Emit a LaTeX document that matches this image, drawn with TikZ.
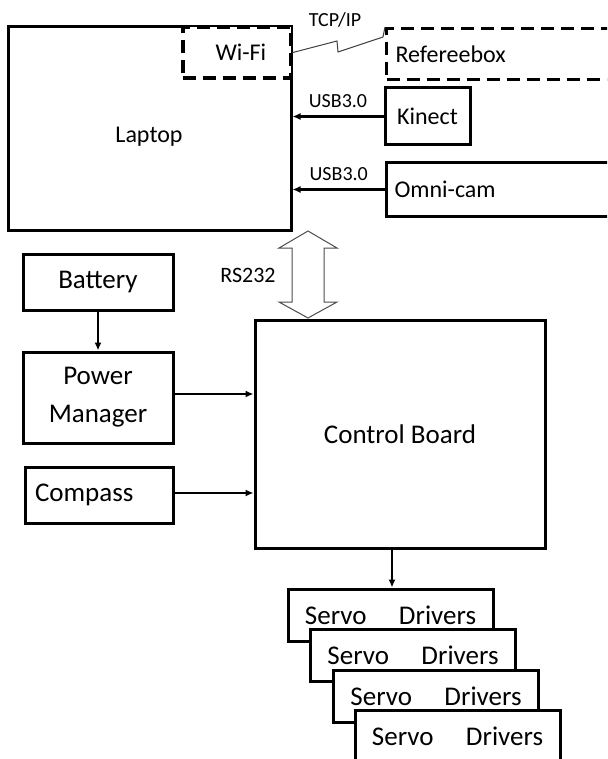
\documentclass[tikz,border=0pt]{standalone}
\usepackage{fontspec}
\setmainfont{Carlito}
\usetikzlibrary{arrows.meta,positioning,calc}

\begin{document}
\begin{tikzpicture}[
    x=1pt,y=-1pt,
    >={Latex[length=8pt,width=7pt]},
    every node/.style={font=\fontsize{27}{38}\selectfont},
    unit/.style={rectangle,draw,line width=3pt,fill=white,inner sep=0pt},
    wireless/.style={unit,dash pattern=on 13pt off 7pt,line width=3.2pt},
    link/.style={->,line width=2.4pt},
    wire/.style={->,line width=1.5pt},
    tag/.style={font=\fontsize{20}{24}\selectfont,inner sep=1pt},
    servobox/.style={unit,minimum width=205pt,minimum height=52pt}
  ]
  \useasboundingbox (0,0) rectangle (607,759);
  \clip (0,0) rectangle (607,759);
  %% Laptop and its inputs
  \node[unit,minimum width=283pt,minimum height=203pt] (laptop) at (149.5,128.5) {};
  \node[font=\fontsize{24}{28}\selectfont] (laptoptxt) at (149,137) {Laptop};
  \node[wireless,minimum width=108pt,minimum height=51pt,anchor=north east,font=\fontsize{24}{28}\selectfont] (wifi) at (laptop.north east) {\hspace{8pt}Wi-Fi};
  \node[wireless,minimum height=51pt,text width=210pt,inner xsep=9pt,align=left,anchor=north west,font=\fontsize{24}{28}\selectfont] (referee) at (385,27) {Refereebox};
  \node[unit,minimum width=85pt,minimum height=57pt,font=\fontsize{24}{28}\selectfont] (kinect) at (427.5,116.5) {Kinect};
  \node[unit,minimum height=54pt,text width=210pt,inner xsep=8pt,align=left,anchor=north west,font=\fontsize{24}{28}\selectfont] (omni) at (385,161) {Omni-cam};
  %% Wireless link
  \coordinate (zigA) at (337,41);
  \coordinate (zigB) at (338,52);
  \draw[line width=1pt,black!75] (wifi.east) -- (zigA) -- (zigB) -- (383,37) -- (referee.north west);
  \node[tag] (tcp) at (335,20) {TCP/IP};
  %% USB links
  \draw[link] (kinect.west) -- (laptop.east |- kinect.west) node[tag,pos=0.5,above=7pt] (usbA) {USB3.0};
  \draw[link] (omni.west) -- (laptop.east |- omni.west) node[tag,pos=0.5,above=7pt] (usbB) {USB3.0};
  %% Control board side
  \node[unit,minimum width=290pt,minimum height=228pt] (board) at (400,434) {Control Board};
  \node[unit,minimum width=150pt,minimum height=56pt] (battery) at (98,282) {Battery};
  \node[unit,minimum width=150pt,minimum height=91pt,align=center] (power) at (98,397.5) {Power\\Manager};
  \node[unit,minimum width=148pt,minimum height=56pt,text width=128pt,align=left] (compass) at (99,495) {Compass};
  \draw[link] (battery) -- (power);
  \draw[wire] (power.east |- 0,394) -- (board.west |- 0,394);
  \draw[wire] (compass.east |- 0,493) -- (board.west |- 0,493);
  %% RS232 double arrow
  \coordinate (rsT) at (308,231);
  \coordinate (rsB) at (308,318);
  \draw[black!70,line width=1pt,fill=white]
    (rsT) -- ($(rsT)+(29,17)$) -- ($(rsT)+(16,17)$) -- ($(rsB)+(16,-16)$) -- ($(rsB)+(29,-16)$)
    -- (rsB) -- ($(rsB)+(-29,-16)$) -- ($(rsB)+(-16,-16)$) -- ($(rsT)+(-16,17)$) -- ($(rsT)+(-29,17)$) -- cycle;
  \node[tag,font=\fontsize{22}{26}\selectfont] (rs) at (248,275) {RS232};
  %% Servo drivers
  \node[servobox] (servoA) at (390.5,615) {Servo\hspace{1.2em}Drivers};
  \node[servobox] (servoB) at (413,655) {Servo\hspace{1.2em}Drivers};
  \node[servobox] (servoC) at (436,696) {Servo\hspace{1.2em}Drivers};
  \node[servobox] (servoD) at (457.5,736) {Servo\hspace{1.2em}Drivers};
  \draw[wire] (board.south -| 392,0) -- (servoA.north -| 392,0);
\end{tikzpicture}
\end{document}
